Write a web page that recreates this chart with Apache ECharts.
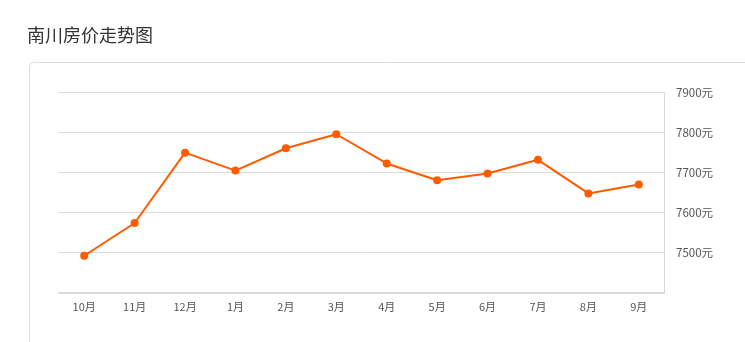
<!DOCTYPE html>
<html><head><meta charset="utf-8">
<script src="https://cdn.jsdelivr.net/npm/echarts@6/dist/echarts.min.js"></script>
<style>html,body{margin:0;padding:0;background:#fff}#c{width:745px;height:342px}</style>
</head><body><div id="c"></div>
<script>
const months = ['10月','11月','12月','1月','2月','3月','4月','5月','6月','7月','8月','9月'];
const prices = [7492,7574,7750,7705,7761,7796,7723,7681,7698,7732,7648,7670];
const titleText = '南川房价走势图';
const yMin = 7400, yMax = 7900, yStep = 100;

const chart = echarts.init(document.getElementById('c'));
chart.setOption({
  animation:false,
  textStyle:{fontFamily:'"Noto Sans CJK SC", "Noto Sans", sans-serif'},
  title:{text:titleText,left:22,top:21,textStyle:{fontSize:18,fontWeight:'normal',color:'#333',fontFamily:'"Noto Sans CJK SC", sans-serif'}},
  graphic:[{type:'rect',shape:{x:29.5,y:62.5,width:800,height:400,r:4},style:{fill:'none',stroke:'#dcdcdc',lineWidth:1},silent:true}],
  grid:{left:59,right:81,top:92.7,bottom:49.5},
  xAxis:{type:'category',data:months,boundaryGap:true,
    axisLine:{lineStyle:{color:'#d9d9d9',width:2}},
    axisTick:{alignWithLabel:true,length:5,lineStyle:{color:'#d9d9d9'}},
    axisLabel:{color:'#555',fontSize:11,margin:9}},
  yAxis:{type:'value',position:'right',min:yMin,max:yMax,interval:yStep,
    axisLine:{show:true,lineStyle:{color:'#d9d9d9'}},
    axisTick:{show:false},
    splitLine:{lineStyle:{color:'#dcdcdc'}},
    axisLabel:{color:'#555',fontSize:11.5,margin:12,formatter:function(v){return v===yMin?'':v+'元';}}},
  series:[{type:'line',data:prices,symbol:'circle',symbolSize:8,
    lineStyle:{color:'#ff5c00',width:2},itemStyle:{color:'#ff5c00'}}]
});
</script></body></html>
